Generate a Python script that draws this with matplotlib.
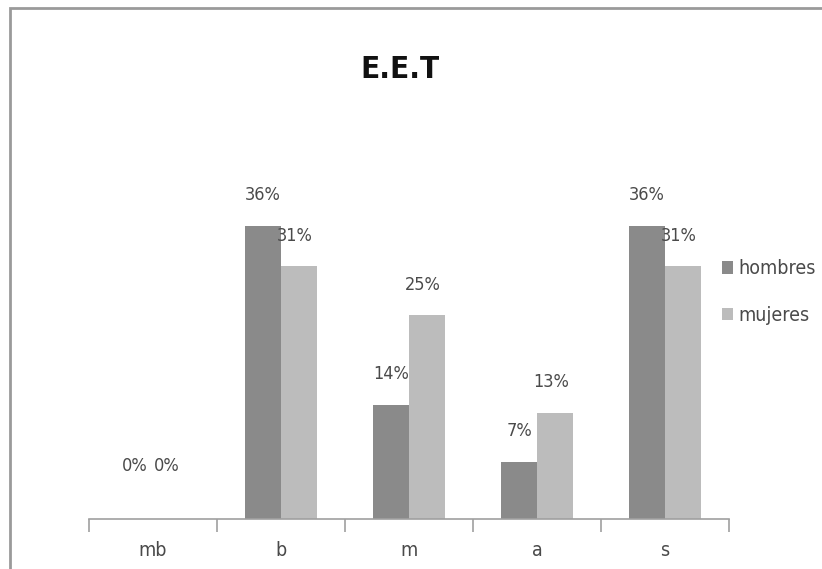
import matplotlib
matplotlib.use("Agg")
from matplotlib import pyplot as plt
from matplotlib.patches import Rectangle
import numpy as np

# data
categories = ["mb", "b", "m", "a", "s"]
hombres = [0, 36, 14, 7, 36]
mujeres = [0, 31, 25, 13, 31]

plt.rcParams['font.family'] = ['DejaVu Sans']
plt.rcParams['font.stretch'] = 'condensed'

col_h = "#8a8a8a"
col_m = "#bcbcbc"
txt = "#4a4a4a"

fig = plt.figure(figsize=(8.22, 5.69), dpi=100)
ax = fig.add_axes([89/822, 50/569, 640/822, 326/569])

x = np.arange(len(categories))
w = 0.28
b1 = ax.bar(x - w/2, hombres, w, color=col_h, label="hombres")
b2 = ax.bar(x + w/2, mujeres, w, color=col_m, label="mujeres")

# value labels, excel puts the zero ones higher up
for bars, dx in ((b1, 0), (b2, -3)):
    for r in bars:
        v = r.get_height()
        off = 38 if v == 0 else 22
        ax.annotate(f"{v:.0f}%", (r.get_x() + r.get_width()/2, v),
                    xytext=(dx, off), textcoords="offset points",
                    ha="center", va="center", fontsize=13, color=txt,
                    annotation_clip=False)

ax.set_xlim(-0.5, len(categories) - 0.5)
ax.set_ylim(0, 40)
ax.set_yticks([])
for s in ("top", "right", "left"):
    ax.spines[s].set_visible(False)
ax.spines["bottom"].set_color("#a0a0a0")
ax.spines["bottom"].set_linewidth(1.2)

ax.set_xticks(x)
ax.set_xticklabels(categories, fontsize=14, color=txt)
ax.tick_params(axis="x", which="major", length=0, pad=16)
ax.set_xticks(np.arange(len(categories) + 1) - 0.5, minor=True)
ax.tick_params(axis="x", which="minor", length=9, color="#a0a0a0", width=1.2)

fig.text(400/822, 1 - 70/569, "E.E.T", ha="center", va="center",
         fontsize=22.5, fontweight="bold", color="#111111")

fig.legend(handles=[b1, b2], loc="center left", bbox_to_anchor=(704/822, 1 - 292/569),
           frameon=False, fontsize=14, labelspacing=1.4, handlelength=0.6,
           handleheight=0.6, handletextpad=0.25, labelcolor=txt)

# chart frame, cut off at right and bottom
fig.patches.append(Rectangle((10/822, -0.1), 1.2, 1 - 8/569 + 0.1,
                             transform=fig.transFigure, fill=False,
                             edgecolor="#9a9a9a", linewidth=2))

fig.savefig("out.png", dpi=100)
